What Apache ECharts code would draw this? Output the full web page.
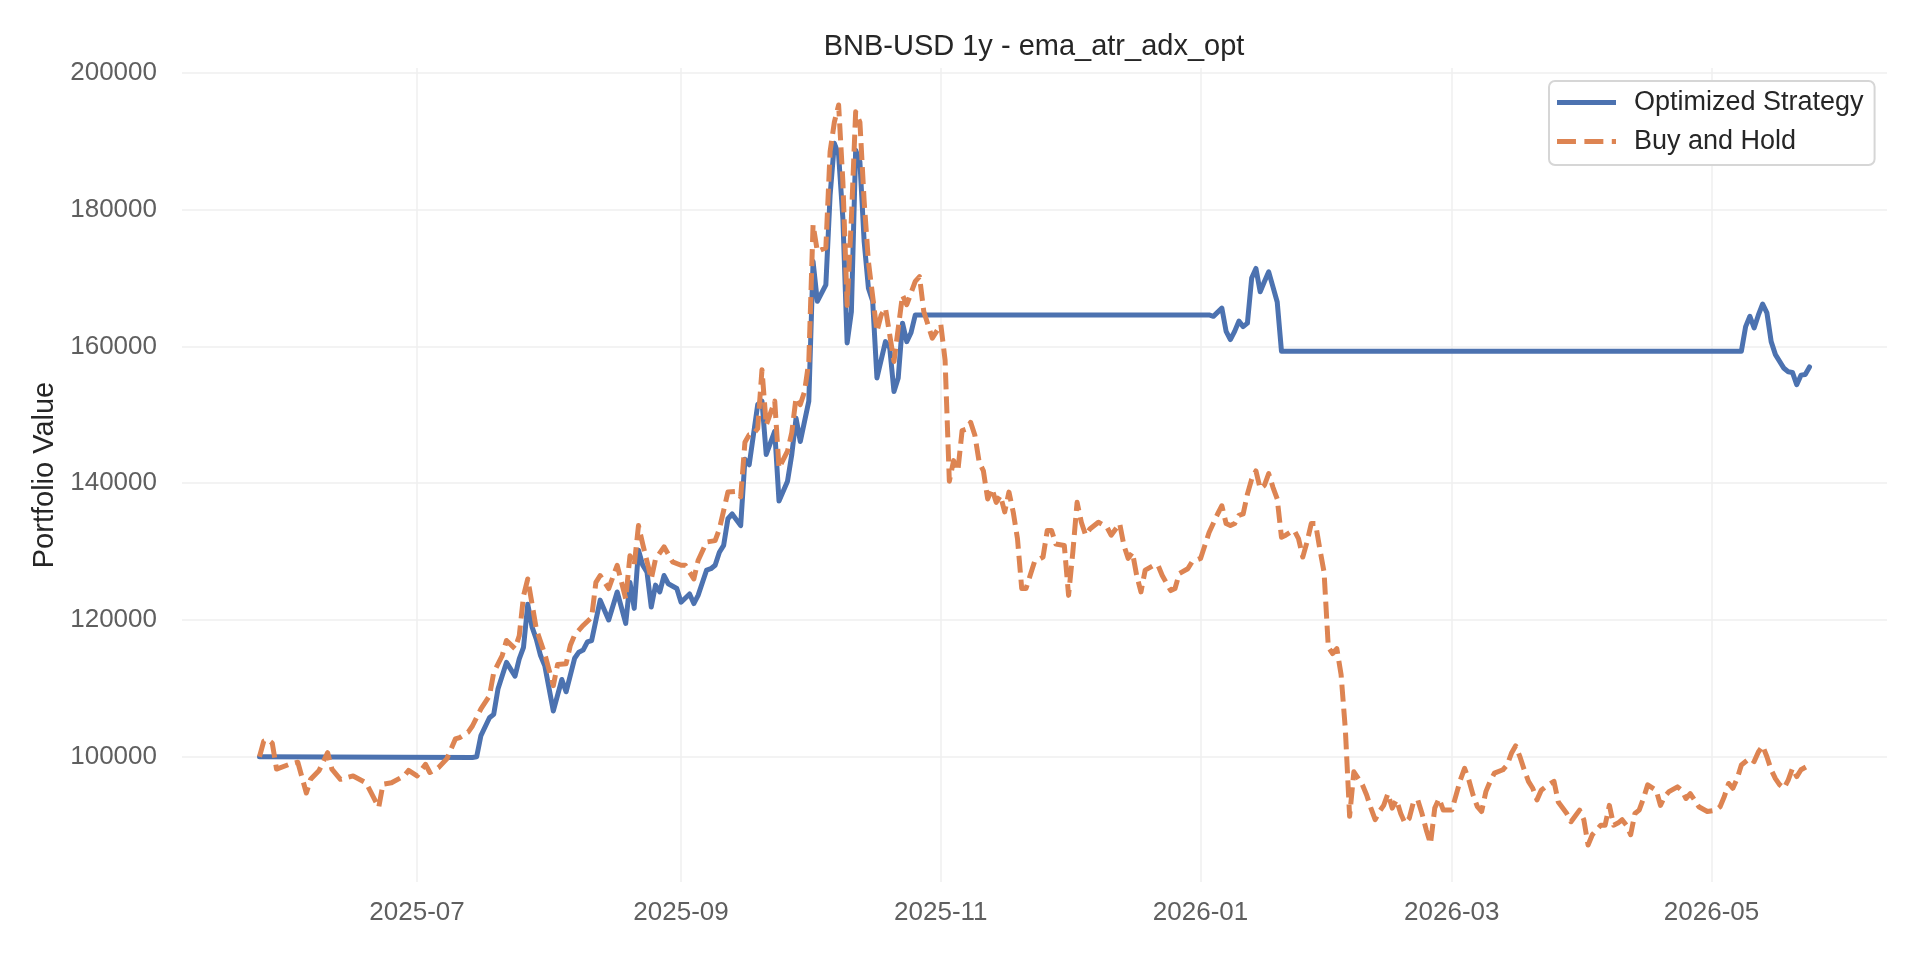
<!DOCTYPE html>
<html>
<head>
<meta charset="utf-8">
<title>BNB-USD 1y - ema_atr_adx_opt</title>
<script src="https://cdn.jsdelivr.net/npm/echarts@6/dist/echarts.min.js"></script>
<style>
  html, body { margin: 0; padding: 0; background: #fff; }
  #chart { width: 1920px; height: 960px; }
</style>
</head>
<body>
<div id="chart"></div>
<script>
// values
const strategy = [
  ['2025-05-25', 100000], ['2025-07-14', 99900], ['2025-07-15', 100000], ['2025-07-16', 103100],
  ['2025-07-18', 105700], ['2025-07-19', 106200], ['2025-07-20', 109900], ['2025-07-22', 113800],
  ['2025-07-24', 111800], ['2025-07-25', 114300], ['2025-07-26', 116000], ['2025-07-27', 122300],
  ['2025-07-28', 119000], ['2025-07-29', 117200], ['2025-07-30', 114800], ['2025-07-31', 113300],
  ['2025-08-02', 106700], ['2025-08-04', 111300], ['2025-08-05', 109500], ['2025-08-07', 114400],
  ['2025-08-08', 115300], ['2025-08-09', 115600], ['2025-08-10', 116800], ['2025-08-11', 117000],
  ['2025-08-13', 122900], ['2025-08-15', 120000], ['2025-08-17', 124100], ['2025-08-19', 119500],
  ['2025-08-20', 125500], ['2025-08-21', 121700], ['2025-08-22', 130200], ['2025-08-23', 128000],
  ['2025-08-24', 127000], ['2025-08-25', 121900], ['2025-08-26', 125100], ['2025-08-27', 124100],
  ['2025-08-28', 126500], ['2025-08-29', 125300], ['2025-08-31', 124600], ['2025-09-01', 122600],
  ['2025-09-03', 123800], ['2025-09-04', 122400], ['2025-09-05', 123600], ['2025-09-07', 127300],
  ['2025-09-08', 127500], ['2025-09-09', 128000], ['2025-09-10', 129900], ['2025-09-11', 130900],
  ['2025-09-12', 134800], ['2025-09-13', 135500], ['2025-09-15', 133800], ['2025-09-16', 143500],
  ['2025-09-17', 142700], ['2025-09-19', 151500], ['2025-09-20', 152000], ['2025-09-21', 144200],
  ['2025-09-23', 147600], ['2025-09-24', 137400], ['2025-09-26', 140300], ['2025-09-27', 144200],
  ['2025-09-28', 149500], ['2025-09-29', 146100], ['2025-10-01', 152000], ['2025-10-02', 172400],
  ['2025-10-03', 166600], ['2025-10-05', 169000], ['2025-10-06', 182100], ['2025-10-07', 189700],
  ['2025-10-08', 188000], ['2025-10-09', 178700], ['2025-10-10', 160500], ['2025-10-11', 165100],
  ['2025-10-12', 188700], ['2025-10-13', 187000], ['2025-10-14', 175300], ['2025-10-15', 168500],
  ['2025-10-16', 166600], ['2025-10-17', 155400], ['2025-10-19', 160700], ['2025-10-20', 159800],
  ['2025-10-21', 153400], ['2025-10-22', 155400], ['2025-10-23', 163400], ['2025-10-24', 160700],
  ['2025-10-25', 162000], ['2025-10-26', 164600], ['2026-01-03', 164600], ['2026-01-04', 164400],
  ['2026-01-06', 165600], ['2026-01-07', 162200], ['2026-01-08', 161000], ['2026-01-09', 162200],
  ['2026-01-10', 163700], ['2026-01-11', 162900], ['2026-01-12', 163400], ['2026-01-13', 170000],
  ['2026-01-14', 171400], ['2026-01-15', 168000], ['2026-01-16', 169500], ['2026-01-17', 170900],
  ['2026-01-18', 168700], ['2026-01-19', 166500], ['2026-01-20', 159300], ['2026-05-08', 159300],
  ['2026-05-09', 162900], ['2026-05-10', 164400], ['2026-05-11', 162700], ['2026-05-12', 164600],
  ['2026-05-13', 166200], ['2026-05-14', 164900], ['2026-05-15', 160700], ['2026-05-16', 158800],
  ['2026-05-18', 156800], ['2026-05-19', 156300], ['2026-05-20', 156200], ['2026-05-21', 154400],
  ['2026-05-22', 155800], ['2026-05-23', 155900], ['2026-05-24', 157000]
];

const buyHold = [
  ['2025-05-25', 100000], ['2025-05-26', 102300], ['2025-05-27', 102500], ['2025-05-28', 102000],
  ['2025-05-29', 98200], ['2025-06-01', 98900], ['2025-06-03', 99200], ['2025-06-05', 94700],
  ['2025-06-06', 96700], ['2025-06-08', 98000], ['2025-06-10', 100600], ['2025-06-11', 98200],
  ['2025-06-13', 96700], ['2025-06-16', 97200], ['2025-06-19', 96200], ['2025-06-20', 95000],
  ['2025-06-22', 92600], ['2025-06-23', 96000], ['2025-06-25', 96200], ['2025-06-28', 97200],
  ['2025-06-29', 98000], ['2025-07-01', 97200], ['2025-07-03', 98900], ['2025-07-04', 97700],
  ['2025-07-06', 98400], ['2025-07-08', 99700], ['2025-07-10', 102600], ['2025-07-11', 102800],
  ['2025-07-13', 103600], ['2025-07-14', 104500], ['2025-07-16', 107000], ['2025-07-18', 108900],
  ['2025-07-19', 112300], ['2025-07-21', 114800], ['2025-07-22', 117000], ['2025-07-24', 115800],
  ['2025-07-25', 117700], ['2025-07-26', 123500], ['2025-07-27', 126000], ['2025-07-29', 118700],
  ['2025-07-31', 115000], ['2025-08-02', 110400], ['2025-08-03', 113500], ['2025-08-05', 113600],
  ['2025-08-06', 116300], ['2025-08-07', 117800], ['2025-08-09', 119200], ['2025-08-11', 120400],
  ['2025-08-12', 125500], ['2025-08-13', 126500], ['2025-08-15', 124600], ['2025-08-17', 128000],
  ['2025-08-19', 123100], ['2025-08-20', 129400], ['2025-08-21', 128000], ['2025-08-22', 133800],
  ['2025-08-23', 131100], ['2025-08-25', 126000], ['2025-08-26', 128900], ['2025-08-28', 130700],
  ['2025-08-30', 128500], ['2025-09-01', 128000], ['2025-09-02', 128000], ['2025-09-04', 126000],
  ['2025-09-05', 128700], ['2025-09-07', 131400], ['2025-09-09', 131600], ['2025-09-10', 133300],
  ['2025-09-12', 138700], ['2025-09-14', 138800], ['2025-09-15', 138000], ['2025-09-16', 146000],
  ['2025-09-17', 147100], ['2025-09-18', 147200], ['2025-09-19', 148000], ['2025-09-20', 156600],
  ['2025-09-21', 148500], ['2025-09-23', 152000], ['2025-09-24', 142200], ['2025-09-26', 144700],
  ['2025-09-27', 147400], ['2025-09-28', 152500], ['2025-09-29', 151500], ['2025-09-30', 153400],
  ['2025-10-01', 157800], ['2025-10-02', 177800], ['2025-10-03', 173900], ['2025-10-05', 174400],
  ['2025-10-06', 188500], ['2025-10-07', 192800], ['2025-10-08', 195300], ['2025-10-09', 184100],
  ['2025-10-10', 166000], ['2025-10-11', 178700], ['2025-10-12', 194300], ['2025-10-13', 192800],
  ['2025-10-14', 181200], ['2025-10-15', 172400], ['2025-10-17', 162200], ['2025-10-18', 164600],
  ['2025-10-19', 165600], ['2025-10-21', 157800], ['2025-10-23', 167500], ['2025-10-24', 166100],
  ['2025-10-26', 169500], ['2025-10-27', 170200], ['2025-10-28', 165100], ['2025-10-30', 161200],
  ['2025-11-01', 163200], ['2025-11-02', 158000], ['2025-11-03', 140300], ['2025-11-04', 143300],
  ['2025-11-05', 141800], ['2025-11-06', 147700], ['2025-11-07', 147900], ['2025-11-08', 148900],
  ['2025-11-09', 147000], ['2025-11-10', 143100], ['2025-11-11', 141800], ['2025-11-12', 137700],
  ['2025-11-13', 139200], ['2025-11-14', 137200], ['2025-11-15', 138200], ['2025-11-16', 135800],
  ['2025-11-17', 138700], ['2025-11-18', 135800], ['2025-11-19', 131900], ['2025-11-20', 124600],
  ['2025-11-21', 124600], ['2025-11-23', 128500], ['2025-11-25', 129200], ['2025-11-26', 133100],
  ['2025-11-27', 133100], ['2025-11-28', 131100], ['2025-11-30', 130900], ['2025-12-01', 123600],
  ['2025-12-02', 129900], ['2025-12-03', 137200], ['2025-12-04', 134300], ['2025-12-05', 132400],
  ['2025-12-06', 133300], ['2025-12-08', 134300], ['2025-12-10', 133600], ['2025-12-11', 132400],
  ['2025-12-13', 134100], ['2025-12-14', 130900], ['2025-12-15', 129000], ['2025-12-16', 129900],
  ['2025-12-17', 126500], ['2025-12-18', 124100], ['2025-12-19', 127300], ['2025-12-21', 128000],
  ['2025-12-22', 128000], ['2025-12-23', 126500], ['2025-12-25', 124300], ['2025-12-26', 124600],
  ['2025-12-27', 126800], ['2025-12-29', 127500], ['2025-12-30', 128500], ['2026-01-01', 129000],
  ['2026-01-02', 130900], ['2026-01-03', 132800], ['2026-01-05', 135500], ['2026-01-06', 136700],
  ['2026-01-07', 134100], ['2026-01-08', 133800], ['2026-01-09', 134100], ['2026-01-10', 135300],
  ['2026-01-11', 135500], ['2026-01-12', 138400], ['2026-01-13', 140600], ['2026-01-14', 141800],
  ['2026-01-15', 139200], ['2026-01-16', 139700], ['2026-01-17', 141400], ['2026-01-18', 139400],
  ['2026-01-19', 137700], ['2026-01-20', 132100], ['2026-01-21', 132400], ['2026-01-22', 132800],
  ['2026-01-23', 133100], ['2026-01-24', 131900], ['2026-01-25', 129200], ['2026-01-26', 131400],
  ['2026-01-27', 134100], ['2026-01-28', 134100], ['2026-01-29', 130400], ['2026-01-30', 127000],
  ['2026-01-31', 116000], ['2026-02-01', 115100], ['2026-02-02', 115800], ['2026-02-03', 112000],
  ['2026-02-04', 104000], ['2026-02-05', 91300], ['2026-02-06', 97800], ['2026-02-08', 95900],
  ['2026-02-09', 94400], ['2026-02-10', 92500], ['2026-02-11', 90800], ['2026-02-12', 92000],
  ['2026-02-13', 92900], ['2026-02-14', 94600], ['2026-02-15', 92500], ['2026-02-16', 93700],
  ['2026-02-17', 91700], ['2026-02-18', 90300], ['2026-02-19', 91000], ['2026-02-20', 93400],
  ['2026-02-21', 93700], ['2026-02-22', 91700], ['2026-02-23', 89300], ['2026-02-24', 87300],
  ['2026-02-25', 92500], ['2026-02-26', 93900], ['2026-02-27', 92200], ['2026-03-01', 92200],
  ['2026-03-02', 94400], ['2026-03-03', 96600], ['2026-03-04', 98300], ['2026-03-05', 96600],
  ['2026-03-06', 94400], ['2026-03-07', 92700], ['2026-03-08', 92000], ['2026-03-09', 94900],
  ['2026-03-10', 96400], ['2026-03-11', 97600], ['2026-03-13', 98100], ['2026-03-14', 98800],
  ['2026-03-15', 100500], ['2026-03-16', 101600], ['2026-03-17', 100000], ['2026-03-18', 98100],
  ['2026-03-19', 96400], ['2026-03-20', 95400], ['2026-03-21', 93700], ['2026-03-22', 95100],
  ['2026-03-23', 95600], ['2026-03-25', 96400], ['2026-03-26', 93400], ['2026-03-28', 91700],
  ['2026-03-29', 90500], ['2026-03-31', 92200], ['2026-04-01', 90800], ['2026-04-02', 87100],
  ['2026-04-03', 88600], ['2026-04-05', 90000], ['2026-04-06', 90000], ['2026-04-07', 92900],
  ['2026-04-08', 90000], ['2026-04-09', 90300], ['2026-04-10', 90800], ['2026-04-11', 90000],
  ['2026-04-12', 88600], ['2026-04-13', 91700], ['2026-04-14', 92200], ['2026-04-15', 93900],
  ['2026-04-16', 95900], ['2026-04-18', 95100], ['2026-04-19', 92900], ['2026-04-20', 94200],
  ['2026-04-21', 94900], ['2026-04-23', 95600], ['2026-04-24', 95100], ['2026-04-25', 93900],
  ['2026-04-26', 94600], ['2026-04-27', 93700], ['2026-04-28', 92700], ['2026-04-30', 92000],
  ['2026-05-02', 92200], ['2026-05-03', 92700], ['2026-05-04', 94200], ['2026-05-05', 96100],
  ['2026-05-06', 95400], ['2026-05-07', 96800], ['2026-05-08', 98800], ['2026-05-10', 99800],
  ['2026-05-11', 99300], ['2026-05-12', 100700], ['2026-05-13', 101600], ['2026-05-14', 100000],
  ['2026-05-15', 98100], ['2026-05-16', 96800], ['2026-05-17', 95900], ['2026-05-18', 95400],
  ['2026-05-19', 96600], ['2026-05-20', 98300], ['2026-05-21', 97100], ['2026-05-22', 98100],
  ['2026-05-24', 98800]
];

const yTicks = [100000, 120000, 140000, 160000, 180000, 200000];
const xTicks = ['2025-07-01', '2025-09-01', '2025-11-01', '2026-01-01', '2026-03-01', '2026-05-01'];

const FONT = '"Liberation Sans", Arial, sans-serif';
const BLUE = '#4c72b0';
const ORANGE = '#dd8452';

// dates -> timestamps for a numeric x axis
const toTime = d => +echarts.time.parse(d);
const toXY = rows => rows.map(p => [toTime(p[0]), p[1]]);

// matplotlib-like 5% margins around the data
const allT = strategy.concat(buyHold).map(p => toTime(p[0]));
const allV = strategy.concat(buyHold).map(p => p[1]);
const tMin = Math.min(...allT), tMax = Math.max(...allT);
const vMin = Math.min(...allV), vMax = Math.max(...allV);
const tPad = (tMax - tMin) * 0.05, vPad = (vMax - vMin) * 0.05;

// legend swatches: a solid bar and a dashed bar
const solidIcon = 'path://M0,0H59V5H0Z';
const dashIcon = 'path://M0,0H18V5H0Z M26,0H44V5H26Z M52,0H56V5H52Z';

const chart = echarts.init(document.getElementById('chart'), null, { renderer: 'canvas' });

chart.setOption({
  animation: false,
  backgroundColor: '#ffffff',
  title: {
    text: 'BNB-USD 1y - ema_atr_adx_opt',
    left: 1034,
    textAlign: 'center',
    top: 32,
    padding: 0,
    textStyle: { fontFamily: FONT, fontSize: 29, fontWeight: 'normal', color: '#262626' }
  },
  legend: {
    data: [
      { name: 'Optimized Strategy', icon: solidIcon },
      { name: 'Buy and Hold', icon: dashIcon }
    ],
    orient: 'vertical',
    left: 1549,
    top: 81,
    backgroundColor: '#ffffff',
    borderColor: '#d6d6d6',
    borderWidth: 2,
    borderRadius: 6,
    padding: [8, 11, 10, 8],
    itemWidth: 59,
    itemHeight: 5,
    itemGap: 12,
    symbolKeepAspect: false,
    textStyle: { fontFamily: FONT, fontSize: 27, color: '#262626', padding: [0, 0, 0, 13] }
  },
  grid: { left: 182, right: 33, top: 68, bottom: 78, containLabel: false },
  xAxis: {
    type: 'value',
    min: tMin - tPad,
    max: tMax + tPad,
    axisLine: { show: false },
    axisTick: { show: false, customValues: xTicks.map(toTime) },
    axisLabel: {
      customValues: xTicks.map(toTime),
      formatter: v => echarts.time.format(v, '{yyyy}-{MM}', false),
      fontFamily: FONT, fontSize: 26, color: '#5f5f5f', margin: 18
    },
    splitLine: { show: true, lineStyle: { color: '#efefef', width: 1.5 } }
  },
  yAxis: {
    type: 'value',
    min: vMin - vPad,
    max: vMax + vPad,
    name: 'Portfolio Value',
    nameLocation: 'middle',
    nameGap: 118,
    nameTextStyle: { fontFamily: FONT, fontSize: 29, color: '#262626' },
    axisLine: { show: false },
    axisTick: { show: false, customValues: yTicks },
    axisLabel: {
      customValues: yTicks,
      formatter: v => String(v),
      fontFamily: FONT, fontSize: 26, color: '#5f5f5f', margin: 25
    },
    splitLine: { show: true, lineStyle: { color: '#efefef', width: 1.5 } }
  },
  series: [
    {
      name: 'Optimized Strategy',
      type: 'line',
      data: toXY(strategy),
      showSymbol: false,
      symbol: 'none',
      color: BLUE,
      lineStyle: { color: BLUE, width: 5, join: 'round', cap: 'round' }
    },
    {
      name: 'Buy and Hold',
      type: 'line',
      data: toXY(buyHold),
      showSymbol: false,
      symbol: 'none',
      color: ORANGE,
      lineStyle: { color: ORANGE, width: 5, type: [17, 7], join: 'round' }
    }
  ]
});
</script>
</body>
</html>
